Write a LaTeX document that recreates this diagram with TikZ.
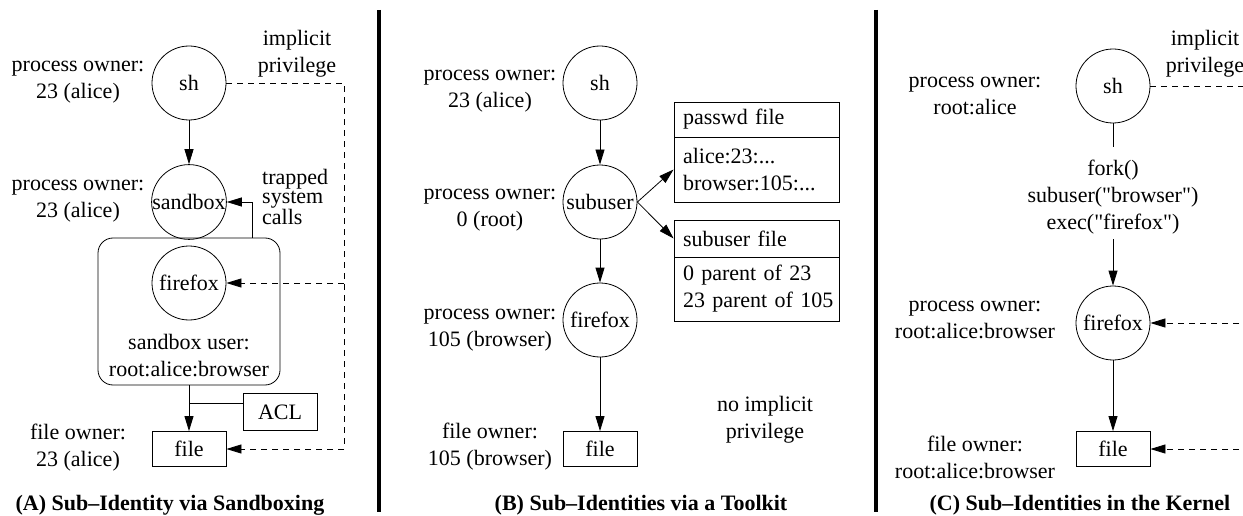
\documentclass[tikz,border=0pt]{standalone}
\usepackage{fontspec}
\setmainfont{Liberation Serif}
\usetikzlibrary{arrows.meta}
\begin{document}
\begin{tikzpicture}[x=1pt,y=-1pt,
  every node/.style={font=\fontsize{22}{27}\selectfont},
  proc/.style={circle,draw,line width=0.8pt,minimum size=74pt,inner sep=0pt},
  filebox/.style={draw,line width=0.8pt,minimum width=74pt,minimum height=35pt,inner sep=0pt},
  lbl/.style={align=center,inner sep=0pt},
  tblh/.style={draw,line width=0.8pt,minimum width=165pt,text width=157pt,align=left,inner xsep=4pt,inner ysep=0pt},
  arr/.style={-{Triangle[length=15pt,width=9pt]},line width=0.8pt},
  dsh/.style={dash pattern=on 6pt off 5pt,line width=0.8pt},
  sepline/.style={line width=4pt},
  capt/.style={font=\bfseries\fontsize{22}{26}\selectfont,inner sep=0pt}
]
\useasboundingbox (0,0) rectangle (1243,516);

% separators
\coordinate (s1t) at (379,10); \coordinate (s1b) at (379,512);
\coordinate (s2t) at (876,10); \coordinate (s2b) at (876,512);
\draw[sepline] (s1t) -- (s1b);
\draw[sepline] (s2t) -- (s2b);

% ---------- Panel A ----------
\node[proc] (shA) at (189,83) {sh};
\node[lbl] (shAlab) at (78,82) {process owner:\\23 (alice)};
\node[lbl] (implA) at (297,54) {implicit\\privilege};
\node[proc] (sbA) at (189,202) {sandbox};
\node[lbl] (sbAlab) at (78,201) {process owner:\\23 (alice)};
\node[lbl,align=left,anchor=west,font=\fontsize{22}{18.5}\selectfont] (trapA) at (262,197) {trapped\\system\\calls};
\node[draw,line width=0.8pt,rounded corners=15pt,minimum width=182pt,minimum height=147pt] (boxA) at (189,311.5) {};
\node[proc] (ffA) at (189,283) {firefox};
\node[lbl] (sbuA) at (189,356) {sandbox user:\\root:alice:browser};
\node[filebox] (fileA) at (189,449) {file};
\node[filebox,minimum height=37pt] (aclA) at (280,412) {ACL};
\node[lbl] (foA) at (78,448) {file owner:\\23 (alice)};
\node[capt] (capA) at (170,505) {(A) Sub\textendash Identity via Sandboxing};

\draw[arr] (shA) -- (sbA);
\coordinate (trapS) at (252,238);
\draw[arr] (trapS) |- (sbA.east);
\draw[arr] (boxA.south) -- (fileA.north);
\coordinate (aclY) at (0,403);
\draw[line width=0.8pt] (aclA.west |- aclY) -- (fileA.north |- aclY);
\coordinate (dA1) at (344,83);
\coordinate (dA2) at (344,283);
\coordinate (dA3) at (344,449);
\draw[dsh] (shA.east) -- (dA1) -- (dA3);
\draw[dsh,arr] (dA2) -- (ffA.east);
\draw[dsh,arr] (dA3) -- (fileA.east);

% ---------- Panel B ----------
\node[proc] (shB) at (600,83) {sh};
\node[lbl] (shBlab) at (490,91) {process owner:\\23 (alice)};
\node[proc] (suB) at (600,202) {subuser};
\node[lbl] (suBlab) at (490,210) {process owner:\\0 (root)};
\node[proc] (ffB) at (600,320) {firefox};
\node[lbl] (ffBlab) at (490,330) {process owner:\\105 (browser)};
\node[filebox] (fileB) at (600,449) {file};
\node[lbl] (foB) at (490,447) {file owner:\\105 (browser)};
\node[lbl] (noB) at (765,420) {no implicit\\privilege};

\node[tblh,minimum height=35pt] (pwH) at (756.5,119.5) {\hspace*{5pt}passwd file};
\node[tblh,minimum height=65pt] (pwB) at (756.5,169.5) {\hspace*{5pt}alice:23:...\\\hspace*{5pt}browser:105:...};
\node[tblh,minimum height=37pt] (sfH) at (756.5,238.5) {\hspace*{5pt}subuser file};
\node[tblh,minimum height=64pt] (sfB) at (756.5,289) {\hspace*{5pt}0 parent of 23\\\hspace*{5pt}23 parent of 105};

\node[capt] (capB) at (641,505) {(B) Sub\textendash Identities via a Toolkit};

\draw[arr] (shB) -- (suB);
\draw[arr] (suB) -- (ffB);
\draw[arr] (ffB) -- (fileB);
\draw[arr] (suB.east) -- (pwB.west);
\draw[arr] (suB.east) -- (sfH.west);

% ---------- Panel C ----------
\node[proc] (shC) at (1113,86) {sh};
\node[lbl] (shClab) at (975,96) {process owner:\\root:alice};
\node[lbl,font=\fontsize{22}{27}\selectfont\addfontfeature{Ligatures=TeXOff}] (forkC) at (1113,197) {fork()\\subuser("browser")\\exec("firefox")};
\node[proc] (ffC) at (1113,323) {firefox};
\node[lbl] (ffClab) at (975,320) {process owner:\\root:alice:browser};
\node[filebox] (fileC) at (1113,449) {file};
\node[lbl] (foC) at (975,457) {file owner:\\root:alice:browser};
\node[lbl] (implC) at (1205,54) {implicit\\privilege};
\node[capt] (capC) at (1080,505) {(C) Sub\textendash Identities in the Kernel};

\coordinate (fkA) at (1113,147);
\coordinate (fkB) at (1113,239);
\draw[line width=0.8pt] (shC.south) -- (fkA);
\draw[arr] (fkB) -- (ffC.north);
\draw[arr] (ffC) -- (fileC);
\coordinate (dC1) at (1250,86);
\coordinate (dC2) at (1250,323);
\coordinate (dC3) at (1250,449);
\draw[dsh] (shC.east) -- (dC1);
\draw[dsh,arr] (dC2) -- (ffC.east);
\draw[dsh,arr] (dC3) -- (fileC.east);
\end{tikzpicture}
\end{document}
